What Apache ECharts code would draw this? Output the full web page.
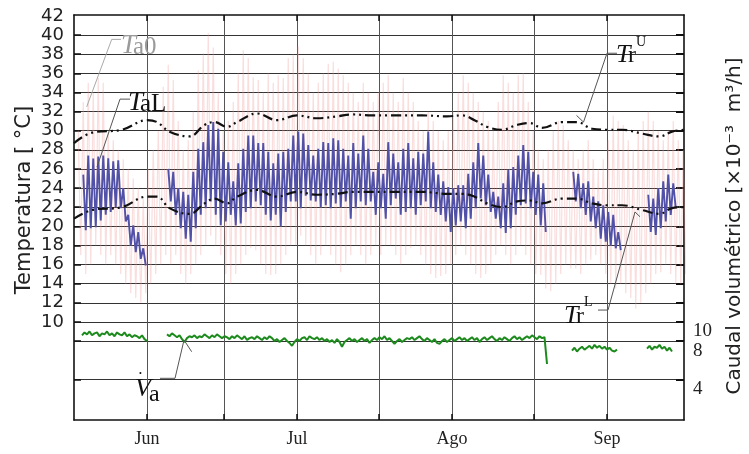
<!DOCTYPE html>
<html><head><meta charset="utf-8">
<script src="https://cdn.jsdelivr.net/npm/echarts@6/dist/echarts.min.js"></script>
<style>html,body{margin:0;padding:0;background:#fff}#c{width:749px;height:454px}</style>
</head><body><div id="c"></div>
<script>
// x = day index, 0 = 1 June
const monthNames = ['Jun', 'Jul', 'Ago', 'Sep'];
const monthStartDays = [0, 30, 61, 92];
const xTickDays = [0, 15.4, 30, 46.4, 61, 77.4, 92];
const tempTickLabels = [10, 12, 14, 16, 18, 20, 22, 24, 26, 28, 30, 32, 34, 36, 38, 40, 42];
const gridValues = [4, 8, 10, 12, 14, 16, 18, 20, 22, 24, 26, 28, 30, 32, 34, 36, 38, 40];
const flowTickLabels = [10, 8, 4];

// outdoor temperature Ta0: daily max / min, first day = -14
const ta0FirstDay = -14;
const ta0Max = [30, 33, 35, 34, 35.5, 35, 30, 29, 28, 27, 26, 25, 24, 23,
  26, 28, 30, 34.6, 36.9, 35.3, 31, 28, 29, 32,
  36.3, 38.1, 40.2, 38.7, 34, 30, 31, 33, 36, 38.4,
  37.6, 35.6, 35.3, 34, 36, 35, 35.8, 35.5, 37.6, 38,
  38.8, 37.6, 36, 34, 35, 36, 37, 37.2, 36.5, 35.8,
  35, 34, 33, 35, 34, 33, 34, 35, 35.8, 34,
  33, 35.5, 34, 33, 31, 30, 32, 31, 30, 29,
  30, 32, 34, 35.8, 35, 34, 33, 32, 31, 30,
  33, 35.8, 35, 34, 35.8, 36, 33, 30, 28, 27,
  28, 30, 31, 30.6, 29, 28, 27, 28, 29, 27,
  26, 27, 29, 31.6, 31, 30.6, 29, 28, 30, 31,
  32, 31, 30, 29, 30, 31, 29, 28];
const ta0Min = [17, 15, 16, 18, 17, 16, 17, 16, 15, 14, 13, 12.5, 12, 13,
  14, 15, 16, 17, 16, 17, 15, 14, 15, 16,
  17, 18, 19, 18, 17, 15, 14, 15, 16, 17,
  17.7, 17.5, 16, 15, 14.9, 15, 16, 17, 18, 18,
  19, 18, 17, 16, 17, 18, 17, 16, 15.2, 16,
  17, 18, 17, 16, 17, 18, 17, 18, 18, 17,
  16, 17, 17.7, 18, 17, 16, 15, 14.6, 14.8, 15,
  16, 17, 18, 17, 16, 15, 14.6, 15, 16, 17,
  18, 17, 16, 17, 18, 17, 16, 15, 14.9, 13.5,
  13.2, 14, 15, 16, 15.6, 15.6, 15, 16, 16.5, 17,
  16, 15, 14, 13.5, 14, 13, 12.5, 11.4, 12, 13,
  14, 15, 15.2, 16, 15, 14, 14, 15];

// indoor temperature TaL: daily max / min per measured segment
const taLSegStart = [-13, 4, 85, 100];
const taLMax = [
  [25.4, 27.4, 27.1, 27.3, 27.4, 27.1, 26.8, 26.9, 24.0, 21.2, 20.1, 19.4, 17.7],
  [26.0, 25.7, 24.0, 23.6, 23.3, 25.7, 28.1, 28.8, 30.6, 30.9, 30.2, 27.8,
   26.7, 24.7, 26.6, 28.1, 29.5, 29.5, 28.7, 28.7, 27.8, 26.6, 27.6, 27.8, 28.1, 29.5, 29.9, 29.7,
   28.5, 27.4, 28.1, 28.8, 28.7, 29.2, 29.0, 28.1, 27.4, 28.7, 27.6, 29.5, 28.1, 25.7, 26.7, 25.5,
   28.8, 27.6, 26.7, 28.1, 28.7, 27.1, 27.8, 27.6, 29.9, 26.7, 25.4, 24.7, 24.1, 24.0, 24.3, 24.3,
   25.5, 26.7, 28.7, 27.4, 25.4, 23.6, 23.1, 24.5, 25.9, 26.2, 27.4, 28.5, 27.8, 25.7, 25.4, 24.5],
  [25.7, 25.5, 24.5, 24.7, 23.1, 22.6, 22.2, 21.5, 21.2, 19.4],
  [23.3, 22.9, 24.0, 24.7, 25.4, 24.5]
];
const taLMin = [
  [19.6, 19.8, 19.9, 20.6, 21.2, 21.5, 22.0, 21.9, 20.5, 18.0, 17.3, 16.6, 15.9],
  [22.6, 21.2, 19.8, 18.7, 18.4, 19.8, 21.2, 21.9, 22.6, 21.2, 20.1, 20.5,
   21.2, 20.1, 20.3, 21.5, 21.9, 22.6, 22.2, 21.2, 20.6, 21.2, 20.0, 21.5, 22.6, 22.6, 21.9, 23.2,
   22.7, 22.6, 22.0, 22.2, 21.9, 22.4, 22.0, 22.6, 20.8, 21.9, 22.6, 22.2, 22.6, 21.2, 21.9, 20.8,
   22.2, 22.9, 21.2, 21.5, 21.9, 21.2, 22.2, 22.6, 21.9, 21.5, 21.2, 20.5, 19.4, 20.1, 20.5, 19.8,
   20.8, 21.9, 22.9, 22.2, 21.5, 20.8, 19.8, 19.3, 19.8, 21.2, 22.2, 22.4, 21.9, 21.2, 20.1, 19.4],
  [22.6, 21.9, 21.2, 20.5, 19.8, 18.7, 18.4, 18.0, 17.7, 17.5],
  [19.4, 19.1, 19.8, 20.5, 21.2, 21.9]
];

// comfort limits Tr (upper / lower)
const trDays = [-14.6, -11, -5, 0, 2, 4.5, 8.5, 11.5, 13.5, 16, 18, 22, 26, 30, 34, 38, 41, 45, 50, 55,
  60, 63, 65.5, 68, 71, 74, 76.5, 79, 83, 86, 89, 92, 95, 99, 102.5, 105, 107.4];
const trUpper = [28.7, 29.8, 30.1, 31.1, 30.9, 29.9, 29.4, 30.6, 30.9, 30.4, 30.9, 31.8, 31.1, 31.6, 31.3, 31.5, 31.7, 31.6, 31.6, 31.6,
  31.5, 31.6, 31.1, 30.4, 30.1, 30.6, 30.8, 30.3, 30.9, 30.9, 30.2, 30.1, 30.1, 29.7, 29.4, 29.9, 30.1];
const trLower = [20.8, 21.7, 22.0, 23.1, 23.1, 21.9, 21.3, 22.4, 22.9, 22.4, 23.1, 23.8, 23.1, 23.6, 23.3, 23.4, 23.6, 23.6, 23.6, 23.6,
  23.4, 23.4, 23.1, 22.4, 22.0, 22.6, 22.7, 22.4, 22.9, 22.9, 22.4, 22.2, 22.2, 21.7, 21.3, 21.9, 22.0];

// volumetric flow Va (x10^-3 m3/h), half-day samples per segment
const vaSegStart = [-13, 4, 85, 100];
const vaStep = 0.5;
const vaValues = [
  [8.6, 8.9, 8.7, 9.0, 8.6, 8.8, 8.9, 8.5, 8.8, 8.7, 9.0, 8.6, 8.8, 8.5, 8.9, 8.7, 8.6, 8.9, 8.5, 8.7, 8.4, 8.6, 8.5, 8.3, 8.6, 8.2, 8.0],
  [8.7, 8.5, 8.8, 8.6, 8.4, 8.6, 8.2, 7.9, 8.3, 8.5, 8.4, 8.6, 8.3,
   8.5, 8.4, 8.7, 8.5, 8.3, 8.6, 8.4, 8.7, 8.5, 8.3, 8.5, 8.4,
   8.2, 8.5, 8.3, 8.6, 8.4, 8.2, 8.5, 8.1, 8.3, 8.4, 8.2, 8.5,
   8.3, 8.1, 8.4, 8.2, 8.5, 8.3, 8.0, 8.2, 7.9, 8.1, 8.3, 8.0,
   7.8, 7.5, 7.9, 8.2, 8.0, 8.3, 8.4, 8.1, 8.5, 8.3, 8.2, 8.4,
   8.1, 8.3, 8.0, 8.2, 7.9, 8.1, 7.8, 8.2, 7.9, 7.4, 7.9, 8.1,
   8.3, 8.0, 8.2, 7.9, 8.1, 8.3, 8.0, 8.2, 7.8, 8.1, 8.3, 8.1,
   8.4, 8.2, 8.5, 8.1, 8.3, 8.0, 7.7, 8.0, 8.2, 7.9, 8.1, 8.3,
   8.2, 8.4, 8.1, 8.3, 8.5, 8.2, 8.0, 8.3, 8.1, 7.9, 8.2, 7.8,
   7.7, 8.0, 8.2, 7.9, 8.1, 8.3, 8.0, 8.2, 8.4, 8.1, 8.3, 8.0,
   8.2, 8.4, 8.1, 8.3, 7.9, 8.2, 8.4, 8.1, 8.3, 8.5, 8.2, 8.0,
   8.3, 8.1, 8.4, 8.2, 8.0, 8.3, 8.5, 8.2, 8.4, 8.1, 8.3, 8.5,
   8.3, 8.6, 8.4, 8.2, 8.5, 8.3, 8.4, 5.6],
  [7.0, 7.3, 6.9, 7.2, 7.4, 7.1, 7.3, 7.5, 7.2, 7.6, 7.3, 7.5, 7.2, 7.4, 7.1, 7.3, 7.0, 6.9, 7.1],
  [7.2, 7.5, 7.1, 7.4, 7.3, 7.6, 7.2, 7.4, 7.0, 7.3, 6.9]
];

// ---- build series data from the arrays ----
function dailyZigzag(start, maxArr, minArr, out) {
  for (let i = 0; i < maxArr.length; i++) {
    const d = start + i;
    out.push([d + 0.25, maxArr[i]]);
    out.push([d + 0.75, minArr[i]]);
  }
  return out;
}
const ta0Data = dailyZigzag(ta0FirstDay, ta0Max, ta0Min, []);
const taLData = [];
taLSegStart.forEach((s, k) => {
  if (k > 0) taLData.push([s, '-']);
  dailyZigzag(s, taLMax[k], taLMin[k], taLData);
});
const vaData = [];
vaSegStart.forEach((s, k) => {
  if (k > 0) vaData.push([s - 0.1, '-']);
  vaValues[k].forEach((v, i) => vaData.push([s + i * vaStep, v]));
});
const trUData = trDays.map((d, i) => [d, trUpper[i]]);
const trLData = trDays.map((d, i) => [d, trLower[i]]);

const chart = echarts.init(document.getElementById('c'));
const serif = 'Liberation Serif';
const sans = 'DejaVu Sans';
const dashDot = [10, 4, 2, 4, 2, 4];

chart.setOption({
  animation: false,
  backgroundColor: '#fff',
  grid: { left: 74, right: 65, top: 15, bottom: 34, containLabel: false },
  xAxis: [{
    type: 'value', min: -14.6, max: 107.4, position: 'bottom',
    axisLine: { show: true, onZero: false, lineStyle: { color: '#111', width: 1.6 } },
    axisTick: { show: true, inside: true, length: 6, customValues: xTickDays, lineStyle: { color: '#111', width: 1.5 } },
    axisLabel: { customValues: monthStartDays, formatter: v => monthNames[monthStartDays.indexOf(v)] || '',
      fontFamily: serif, fontSize: 18, color: '#222', margin: 10 },
    splitLine: { show: true, lineStyle: { color: '#555', width: 1 } }
  }, {
    type: 'value', min: -14.6, max: 107.4, position: 'top',
    axisLine: { show: true, onZero: false, lineStyle: { color: '#111', width: 1.6 } },
    axisTick: { show: true, inside: true, length: 6, customValues: xTickDays, lineStyle: { color: '#111', width: 1.5 } },
    axisLabel: { show: false }, splitLine: { show: false }
  }],
  yAxis: [{
    type: 'value', min: -0.26, max: 42.1, position: 'left',
    axisLine: { show: true, onZero: false, lineStyle: { color: '#111', width: 1.6 } },
    axisTick: { show: true, inside: true, length: 7, customValues: gridValues, lineStyle: { color: '#111', width: 1.5 } },
    axisLabel: { customValues: tempTickLabels, fontFamily: sans, fontSize: 18, color: '#222', margin: 10 },
    splitLine: { show: true, lineStyle: { color: '#333', width: 1 } }
  }, {
    type: 'value', min: -0.26, max: 42.1, position: 'right',
    axisLine: { show: true, onZero: false, lineStyle: { color: '#111', width: 1.6 } },
    axisTick: { show: true, inside: true, length: 8, customValues: gridValues, lineStyle: { color: '#111', width: 2 } },
    axisLabel: { customValues: flowTickLabels, fontFamily: serif, fontSize: 19, color: '#222', margin: 9, verticalAlign: 'top' },
    splitLine: { show: false }
  }],
  series: [
    { name: 'Ta0', type: 'line', data: ta0Data, showSymbol: false, silent: true, z: 1,
      lineStyle: { color: 'rgba(240,150,150,0.32)', width: 1.2 } },
    { name: 'TaL', type: 'line', data: taLData, showSymbol: false, silent: true, z: 2, connectNulls: false,
      lineStyle: { color: '#5151a8', width: 1.9 } },
    { name: 'TrU', type: 'line', data: trUData, showSymbol: false, silent: true, z: 3, smooth: 0.4,
      lineStyle: { color: '#111', width: 2.2, type: dashDot } },
    { name: 'TrL', type: 'line', data: trLData, showSymbol: false, silent: true, z: 3, smooth: 0.4,
      lineStyle: { color: '#111', width: 2.2, type: dashDot } },
    { name: 'Va', type: 'line', data: vaData, showSymbol: false, silent: true, z: 2, connectNulls: false,
      lineStyle: { color: '#1c8a1c', width: 2 } }
  ]
});

// ---- annotations (anchored in data coordinates) ----
const annotations = [
  { color: '#9a9a9a', lineColor: '#aaa', anchor: [-5.2, 38.85],
    leader: [[-5.2, 39.55], [-7.06, 39.55], [-12.06, 32.5]],
    parts: [['T', 0, 0, 27, true], ['a0', 12, 1, 25, false]] },
  { color: '#111', lineColor: '#555', anchor: [-3.8, 32.9],
    leader: [[-3.4, 33.3], [-5.4, 33.3], [-10, 26.2]],
    parts: [['T', 0, 0, 27, true], ['aL', 12, 1, 25, false]] },
  { color: '#111', lineColor: '#555', anchor: [93.8, 37.9],
    leader: [[94.0, 38.1], [92.0, 38.1], [87.3, 30.9], [85.9, 31.6]],
    parts: [['T', 0, 0, 26, true], ['r', 12, 1, 24, false], ['U', 20, -13, 14, false]] },
  { color: '#111', lineColor: '#555', anchor: [83.4, 10.6],
    leader: [[90.2, 11.24], [92.2, 11.24], [97.6, 21.5], [98.6, 21.0]],
    parts: [['T', 0, 0, 26, true], ['r', 12, 1, 24, false], ['L', 20, -14, 14, false]] },
  { color: '#111', lineColor: '#555', anchor: [-2.4, 2.98],
    leader: [[2.6, 4.1], [5.6, 4.1], [7.4, 8.1], [8.94, 6.88]],
    parts: [['V', 0, 0, 26, true], ['\u2022', 4, -15, 8, false], ['a', 14, 6, 24, false]] }
];
const px = p => chart.convertToPixel({ xAxisIndex: 0, yAxisIndex: 0 }, p);
const graphics = [];
annotations.forEach(a => {
  graphics.push({ type: 'polyline', silent: true, z: 50,
    shape: { points: a.leader.map(px) }, style: { stroke: a.lineColor, lineWidth: 1, fill: null } });
  const o = px(a.anchor);
  a.parts.forEach(([t, dx, dy, fs, it]) => {
    graphics.push({ type: 'text', silent: true, z: 51, x: o[0] + dx, y: o[1] + dy,
      style: { text: t, fill: a.color, fontFamily: serif, fontSize: fs, fontStyle: it ? 'italic' : 'normal',
        align: 'left', verticalAlign: 'middle' } });
  });
});
graphics.push({ type: 'text', silent: true, x: 25, y: 200, rotation: Math.PI / 2,
  style: { text: 'Temperatura [ \u00b0C]', fill: '#222', fontFamily: sans, fontSize: 21, align: 'center', verticalAlign: 'middle' } });
graphics.push({ type: 'text', silent: true, x: 735, y: 226, rotation: Math.PI / 2,
  style: { text: 'Caudal volum\u00e9trico [\u00d710\u207b\u00b3  m\u00b3/h]', fill: '#222', fontFamily: sans, fontSize: 20, align: 'center', verticalAlign: 'middle' } });
chart.setOption({ graphic: graphics });
</script>
</body></html>
